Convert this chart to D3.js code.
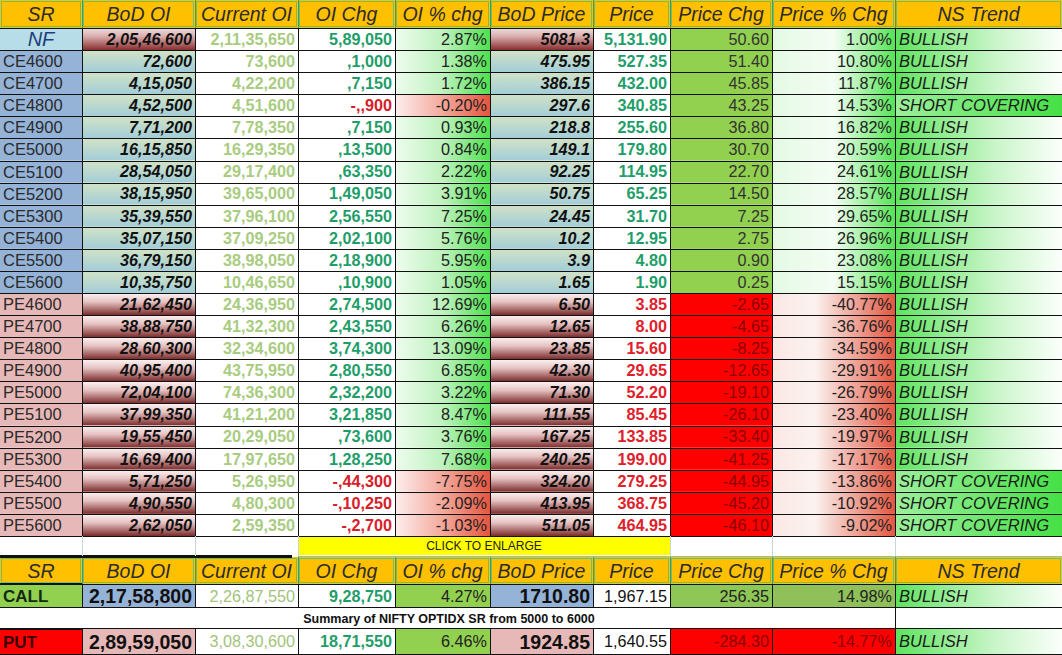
<!DOCTYPE html>
<html><head><meta charset="utf-8">
<script src="https://cdn.jsdelivr.net/npm/d3@7/dist/d3.min.js"></script>
<style>html,body{margin:0;padding:0;background:#fff;overflow:hidden}svg{display:block}</style>
</head><body>
<svg id="c" width="1062" height="655"></svg>
<script>
// ---------------- DATA ----------------
const headers = ["SR","BoD OI","Current OI","OI Chg","OI % chg","BoD Price","Price","Price Chg","Price % Chg","NS Trend"];
const sr = ["NF","CE4600","CE4700","CE4800","CE4900","CE5000","CE5100","CE5200","CE5300","CE5400","CE5500","CE5600",
  "PE4600","PE4700","PE4800","PE4900","PE5000","PE5100","PE5200","PE5300","PE5400","PE5500","PE5600"];
const bodOI = ["2,05,46,600","72,600","4,15,050","4,52,500","7,71,200","16,15,850","28,54,050","38,15,950","35,39,550","35,07,150","36,79,150","10,35,750",
  "21,62,450","38,88,750","28,60,300","40,95,400","72,04,100","37,99,350","19,55,450","16,69,400","5,71,250","4,90,550","2,62,050"];
const curOI = ["2,11,35,650","73,600","4,22,200","4,51,600","7,78,350","16,29,350","29,17,400","39,65,000","37,96,100","37,09,250","38,98,050","10,46,650",
  "24,36,950","41,32,300","32,34,600","43,75,950","74,36,300","41,21,200","20,29,050","17,97,650","5,26,950","4,80,300","2,59,350"];
const oiChg = ["5,89,050",",1,000",",7,150","-,,900",",7,150",",13,500",",63,350","1,49,050","2,56,550","2,02,100","2,18,900",",10,900",
  "2,74,500","2,43,550","3,74,300","2,80,550","2,32,200","3,21,850",",73,600","1,28,250","-,44,300","-,10,250","-,2,700"];
const oiPct = ["2.87%","1.38%","1.72%","-0.20%","0.93%","0.84%","2.22%","3.91%","7.25%","5.76%","5.95%","1.05%",
  "12.69%","6.26%","13.09%","6.85%","3.22%","8.47%","3.76%","7.68%","-7.75%","-2.09%","-1.03%"];
const bodPrice = ["5081.3","475.95","386.15","297.6","218.8","149.1","92.25","50.75","24.45","10.2","3.9","1.65",
  "6.50","12.65","23.85","42.30","71.30","111.55","167.25","240.25","324.20","413.95","511.05"];
const price = ["5,131.90","527.35","432.00","340.85","255.60","179.80","114.95","65.25","31.70","12.95","4.80","1.90",
  "3.85","8.00","15.60","29.65","52.20","85.45","133.85","199.00","279.25","368.75","464.95"];
const priceChg = ["50.60","51.40","45.85","43.25","36.80","30.70","22.70","14.50","7.25","2.75","0.90","0.25",
  "-2.65","-4.65","-8.25","-12.65","-19.10","-26.10","-33.40","-41.25","-44.95","-45.20","-46.10"];
const pricePct = ["1.00%","10.80%","11.87%","14.53%","16.82%","20.59%","24.61%","28.57%","29.65%","26.96%","23.08%","15.15%",
  "-40.77%","-36.76%","-34.59%","-29.91%","-26.79%","-23.40%","-19.97%","-17.17%","-13.86%","-10.92%","-9.02%"];
const trend = ["BULLISH","BULLISH","BULLISH","SHORT COVERING","BULLISH","BULLISH","BULLISH","BULLISH","BULLISH","BULLISH","BULLISH","BULLISH",
  "BULLISH","BULLISH","BULLISH","BULLISH","BULLISH","BULLISH","BULLISH","BULLISH","SHORT COVERING","SHORT COVERING","SHORT COVERING"];

const sumSR = ["CALL","PUT"];
const sumBodOI = ["2,17,58,800","2,89,59,050"];
const sumCurOI = ["2,26,87,550","3,08,30,600"];
const sumOiChg = ["9,28,750","18,71,550"];
const sumOiPct = ["4.27%","6.46%"];
const sumBodPrice = ["1710.80","1924.85"];
const sumPrice = ["1,967.15","1,640.55"];
const sumPriceChg = ["256.35","-284.30"];
const sumPricePct = ["14.98%","-14.77%"];
const sumTrend = ["BULLISH","BULLISH"];
const clickText = "CLICK TO ENLARGE";
const summaryText = "Summary of NIFTY OPTIDX SR from 5000 to 6000";

// ---------------- LAYOUT ----------------
const W = 1062, H = 655;
const colEdges = [0, 82, 195, 298, 395, 490, 593, 670, 772, 895, 1062];
const FONT = "'Liberation Sans', Arial, sans-serif";
const svg = d3.select("#c");
const defs = svg.append("defs");

function grad(id, stops, vertical) {
  const g = defs.append("linearGradient").attr("id", id)
    .attr("x1", 0).attr("y1", 0).attr("x2", vertical ? 0 : 1).attr("y2", vertical ? 1 : 0);
  stops.forEach(s => g.append("stop").attr("offset", s[0]).attr("stop-color", s[1]));
  return `url(#${id})`;
}
const F = {
  bodNF: grad("bodNF", [[0, "#efdcdc"], [0.35, "#dcb3b3"], [1, "#8a2d2d"]], true),
  bodCE: grad("bodCE", [[0, "#d2e3c6"], [1, "#a3cdd8"]], true),
  bodPE: grad("bodPE", [[0, "#fcf4f4"], [0.4, "#e6c2c2"], [1, "#7c2a2a"]], true),
  pctPos: grad("pctPos", [[0, "#eefcee"], [0.5, "#bff2bf"], [1, "#4fe04f"]], false),
  pctNeg: grad("pctNeg", [[0, "#fdeeee"], [0.5, "#f3a99c"], [1, "#e5553f"]], false),
  ppPos: grad("ppPos", [[0, "#e4f9e4"], [0.5, "#f4fdf4"], [1, "#55e455"]], false),
  ppNeg: grad("ppNeg", [[0, "#fbe7e4"], [0.35, "#fbf2f0"], [1, "#e35640"]], false),
  bull: grad("bull", [[0, "#5de45d"], [0.6, "#c9f5c9"], [1, "#fbfffb"]], false),
  shortc: grad("shortc", [[0, "#9cef9c"], [1, "#45e045"]], false)
};

const nRows = sr.length;
const y = d3.scaleLinear().domain([0, nRows]).range([28, 536]);
const x0 = i => colEdges[i], x1 = i => colEdges[i + 1];
const neg = s => s.trim().startsWith("-");
const DS = 16.2;

// build cells
const cells = [];
function cell(c, ya, yb, o) { cells.push(Object.assign({ xa: x0(c), xb: x1(c), ya, yb }, o)); }

function header(ya, yb) {
  headers.forEach((h, c) => cell(c, ya, yb, { fill: "#FFC000", text: h, align: "middle", size: 19.5, italic: true, color: "#2b2b2b", hdr: true }));
}
header(0, 28);

sr.forEach((s, r) => {
  const ya = y(r), yb = y(r + 1);
  const isNF = r === 0, isCE = s.startsWith("CE");
  const bodFill = isNF ? F.bodNF : isCE ? F.bodCE : F.bodPE;
  cell(0, ya, yb, isNF ? { fill: "#b7dde8", text: s, align: "middle", size: 20, italic: true, color: "#1f3f7a" }
                       : { fill: isCE ? "#95b3d7" : "#e6b8b7", text: s, align: "start", size: 16.5, color: "#2a2a2a" });
  cell(1, ya, yb, { fill: bodFill, text: bodOI[r], align: "end", size: DS, bold: true, italic: true, color: "#111" });
  cell(2, ya, yb, { fill: "#fff", text: curOI[r], align: "end", size: DS, bold: true, color: "#a8cc80" });
  cell(3, ya, yb, { fill: "#fff", text: oiChg[r], align: "end", size: DS, bold: true, color: neg(oiChg[r]) ? "#d8202a" : "#1f9e6a" });
  cell(4, ya, yb, { fill: neg(oiPct[r]) ? F.pctNeg : F.pctPos, text: oiPct[r], align: "end", size: DS, color: "#222" });
  cell(5, ya, yb, { fill: bodFill, text: bodPrice[r], align: "end", size: DS, bold: true, italic: true, color: "#111" });
  cell(6, ya, yb, { fill: "#fff", text: price[r], align: "end", size: DS, bold: true, color: (isNF || isCE) ? "#1f9e6a" : "#e0202a" });
  const pn = neg(priceChg[r]);
  cell(7, ya, yb, { fill: pn ? "#ff0000" : "#92d050", text: priceChg[r], align: "end", size: DS, color: pn ? "#8a0000" : "#333" });
  cell(8, ya, yb, { fill: neg(pricePct[r]) ? F.ppNeg : F.ppPos, text: pricePct[r], align: "end", size: DS, color: "#222" });
  cell(9, ya, yb, { fill: trend[r] === "BULLISH" ? F.bull : F.shortc, text: trend[r], align: "start", size: 16.5, italic: true, color: "#1a1a1a", pad: 4 });
});

// click row
const cy0 = 536, cy1 = 556;
cells.push({ xa: x0(3), xb: x1(6), ya: cy0 + 1, yb: cy1 - 1, fill: "#ffff00", text: clickText, align: "middle", size: 12, color: "#222" });

// header 2
const h2a = 557, h2b = 584;
header(h2a, h2b);

// summary rows
const sumRows = [[584, 608], [628, 655]];
sumSR.forEach((s, i) => {
  const [ya, yb] = sumRows[i];
  const isCall = i === 0;
  cell(0, ya, yb, { fill: isCall ? "#92d050" : "#ff0000", text: s, align: "start", size: 17, bold: true, color: isCall ? "#122a12" : "#3a0000" });
  cell(1, ya, yb, { fill: isCall ? "#95b3d7" : "#e6b8b7", text: sumBodOI[i], align: "end", size: 19.5, bold: true, color: "#111" });
  cell(2, ya, yb, { fill: "#fff", text: sumCurOI[i], align: "end", size: DS, color: "#a2c47a" });
  cell(3, ya, yb, { fill: "#fff", text: sumOiChg[i], align: "end", size: DS, bold: true, color: "#1f9e6a" });
  cell(4, ya, yb, { fill: "#92d050", text: sumOiPct[i], align: "end", size: DS, color: "#222" });
  cell(5, ya, yb, { fill: isCall ? "#95b3d7" : "#e6b8b7", text: sumBodPrice[i], align: "end", size: 19.5, bold: true, color: "#111" });
  cell(6, ya, yb, { fill: "#fff", text: sumPrice[i], align: "end", size: DS, color: "#111" });
  const pn = neg(sumPriceChg[i]);
  cell(7, ya, yb, { fill: pn ? "#ff0000" : "#8fc757", text: sumPriceChg[i], align: "end", size: DS, color: pn ? "#8a0000" : "#222" });
  cell(8, ya, yb, { fill: neg(sumPricePct[i]) ? "#ff0000" : "#8fc059", text: sumPricePct[i], align: "end", size: DS, color: neg(sumPricePct[i]) ? "#8a0000" : "#222" });
  cell(9, ya, yb, { fill: F.bull, text: sumTrend[i], align: "start", size: 16.5, italic: true, color: "#1a1a1a", pad: 4 });
});

// ---------------- DRAW ----------------
svg.append("rect").attr("width", W).attr("height", H).attr("fill", "#fff");

const g = svg.append("g");
g.selectAll("rect.cell").data(cells).join("rect").attr("class", "cell")
  .attr("x", d => d.xa).attr("y", d => d.ya).attr("width", d => d.xb - d.xa).attr("height", d => d.yb - d.ya)
  .attr("fill", d => d.fill);

g.selectAll("rect.hb").data(cells.filter(d => d.hdr)).join("rect").attr("class", "hb")
  .attr("x", d => d.xa + 1.5).attr("y", d => d.ya + 1.5).attr("width", d => d.xb - d.xa - 3).attr("height", d => d.yb - d.ya - 3)
  .attr("fill", "none").attr("stroke", "#6cbf6c").attr("stroke-width", 1);

const grid = svg.append("g").attr("stroke", "#111").attr("stroke-width", 1).attr("shape-rendering", "crispEdges");
d3.range(nRows + 1).forEach(r => grid.append("line").attr("x1", 0).attr("x2", W).attr("y1", Math.round(y(r)) + 0.5).attr("y2", Math.round(y(r)) + 0.5));
colEdges.slice(1, -1).forEach(cx => grid.append("line").attr("x1", cx + 0.5).attr("x2", cx + 0.5).attr("y1", 28).attr("y2", 536));
[[0, 28], [h2a, h2b]].forEach(([a, b]) => colEdges.slice(1, -1).forEach(cx =>
  grid.append("line").attr("x1", cx + 0.5).attr("x2", cx + 0.5).attr("y1", a).attr("y2", b).attr("stroke", "#4f9a4f")));
const light = svg.append("g").attr("stroke", "#c8d8d8").attr("stroke-width", 1).attr("shape-rendering", "crispEdges");
[82, 195, 298, 670, 772, 895].forEach(cx => light.append("line").attr("x1", cx + 0.5).attr("x2", cx + 0.5).attr("y1", cy0).attr("y2", cy1));
light.append("line").attr("x1", 298).attr("x2", W).attr("y1", cy1 + 0.5).attr("y2", cy1 + 0.5).attr("stroke", "#7fc7c7");
grid.append("line").attr("x1", 0).attr("x2", 292).attr("y1", 556).attr("y2", 556).attr("stroke-width", 3);
sumRows.forEach(([a, b]) => {
  grid.append("line").attr("x1", 0).attr("x2", W).attr("y1", a + 0.5).attr("y2", a + 0.5);
  grid.append("line").attr("x1", 0).attr("x2", W).attr("y1", b - 0.5).attr("y2", b - 0.5);
  colEdges.slice(1, -1).forEach(cx => grid.append("line").attr("x1", cx + 0.5).attr("x2", cx + 0.5).attr("y1", a).attr("y2", b));
});
grid.append("line").attr("x1", 0).attr("x2", 82).attr("y1", 584).attr("y2", 584).attr("stroke-width", 2.5);
grid.append("line").attr("x1", 0).attr("x2", 82).attr("y1", 628.5).attr("y2", 628.5).attr("stroke-width", 2);
grid.append("line").attr("x1", 895.5).attr("x2", 895.5).attr("y1", 608).attr("y2", 628);

svg.append("g").selectAll("text").data(cells.filter(d => d.text)).join("text")
  .attr("x", d => d.align === "start" ? d.xa + (d.pad || 3) : d.align === "end" ? d.xb - 3 : (d.xa + d.xb) / 2)
  .attr("y", d => (d.ya + d.yb) / 2)
  .attr("dy", "0.36em")
  .attr("text-anchor", d => d.align)
  .attr("font-family", FONT)
  .attr("font-size", d => d.size)
  .attr("font-weight", d => d.bold ? "bold" : "normal")
  .attr("font-style", d => d.italic ? "italic" : "normal")
  .attr("fill", d => d.color)
  .text(d => d.text);

svg.append("text").attr("x", 449).attr("y", 618).attr("dy", "0.36em").attr("text-anchor", "middle")
  .attr("font-family", FONT).attr("font-size", 12.5).attr("font-weight", "bold").attr("fill", "#111").text(summaryText);
</script>
</body></html>
